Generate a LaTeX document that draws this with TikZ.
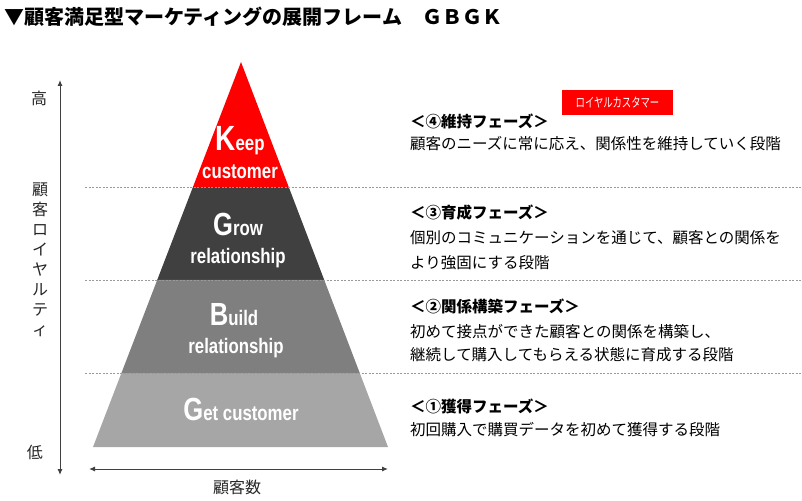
\documentclass[tikz,border=0pt]{standalone}
\usepackage{fontspec}
\setmainfont{Noto Sans CJK JP}
\newfontfamily\pyrfont{Liberation Sans}[FakeStretch=0.8]
\usetikzlibrary{arrows.meta,calc}
\definecolor{darklayer}{HTML}{404040}
\definecolor{midlayer}{HTML}{7F7F7F}
\definecolor{lightlayer}{HTML}{A6A6A6}
\definecolor{axisgray}{HTML}{404040}
\definecolor{guidegray}{HTML}{9A9A9A}
\tikzset{
  jtxt/.style={inner sep=0, anchor=base west, font=\fontsize{15.5}{20}\selectfont},
  jhead/.style={inner sep=0, anchor=base west, font=\bfseries\fontsize{15.5}{20}\selectfont},
  sidelbl/.style={inner sep=0, anchor=base, font=\fontsize{16}{20}\selectfont, text=black!85},
  guide/.style={draw=guidegray, dash pattern=on 2pt off 1.5pt, line width=0.8pt},
  axisline/.style={draw=axisgray, line width=1pt, {Latex[length=6pt,width=5pt]}-{Latex[length=6pt,width=5pt]}},
  pyrtxt/.style={inner sep=0, anchor=base, text=white, font=\pyrfont\bfseries},
  badge/.style={fill=red, text=white, inner sep=0, minimum width=111pt, minimum height=25pt, font=\fontsize{13}{13}\selectfont},
}
\newcommand{\bigletter}[1]{{\fontsize{32}{32}\selectfont #1}}
\newcommand{\smletters}[1]{{\fontsize{21}{21}\selectfont #1}}
\begin{document}
\begin{tikzpicture}[x=1pt,y=-1pt]
\useasboundingbox (0,0) rectangle (802,500);
% title
\node[inner sep=0, anchor=base west, font=\bfseries\fontsize{20}{20}\selectfont] (title) at (4,25) {▼顧客満足型マーケティングの展開フレーム　ＧＢＧＫ};
% pyramid
\coordinate (A) at (241,62);
\coordinate (BL) at (93,447);
\coordinate (BR) at (388,447);
\coordinate (L1) at ($(A)!0.3247!(BL)$);
\coordinate (R1) at ($(A)!0.3247!(BR)$);
\coordinate (L2) at ($(A)!0.5662!(BL)$);
\coordinate (R2) at ($(A)!0.5662!(BR)$);
\coordinate (L3) at ($(A)!0.8078!(BL)$);
\coordinate (R3) at ($(A)!0.8078!(BR)$);
\fill[red] (A) -- (L1) -- (R1) -- cycle;
\fill[darklayer] (L1) -- (L2) -- (R2) -- (R1) -- cycle;
\fill[midlayer] (L2) -- (L3) -- (R3) -- (R2) -- cycle;
\fill[lightlayer] (L3) -- (BL) -- (BR) -- (R3) -- cycle;
% guides
\coordinate (g1a) at (85,187); \coordinate (g1b) at (802,187);
\coordinate (g2a) at (85,280); \coordinate (g2b) at (802,280);
\coordinate (g3a) at (85,373); \coordinate (g3b) at (802,373);
\draw[guide] (g1a) -- (g1b);
\draw[guide] (g2a) -- (g2b);
\draw[guide] (g3a) -- (g3b);
% pyramid texts
\node[pyrtxt] (keep) at (240,150) {{\fontsize{35}{35}\selectfont K}\smletters{eep}};
\node[pyrtxt] (keepc) at (240,178) {\smletters{customer}};
\node[pyrtxt] (grow) at (238,235) {\bigletter{G}\smletters{row}};
\node[pyrtxt] (growr) at (238,263) {\smletters{relationship}};
\node[pyrtxt] (build) at (234,325) {\bigletter{B}\smletters{uild}};
\node[pyrtxt] (buildr) at (236,353) {\smletters{relationship}};
\node[pyrtxt] (get) at (241,420) {\bigletter{G}\smletters{et customer}};
% axes
\coordinate (ytop) at (60,80);
\coordinate (ybot) at (60,475);
\draw[axisline] (ytop) -- (ybot);
\coordinate (xl) at (89,469);
\coordinate (xr) at (388,469);
\draw[axisline] (xl) -- (xr);
\node[sidelbl] (high) at (39,104) {高};
\node[sidelbl] (low) at (35,458) {低};
\foreach \ch [count=\i from 0] in {顧,客,ロ,イ,ヤ,ル,テ,ィ}
  \node[sidelbl] (v\i) at (40,195+20*\i) {\ch};
\node[sidelbl] (count) at (237,493) {顧客数};
% right texts
\node[badge] (loyal) at (617.5,102.5) {\scalebox{0.72}[1]{ロイヤルカスタマー}};
\node[jhead] (h4) at (410,128) {＜④維持フェーズ＞};
\node[jtxt] (d4) at (410,149) {顧客のニーズに常に応え、関係性を維持していく段階};
\node[jhead] (h3) at (410,218) {＜③育成フェーズ＞};
\node[jtxt] (d3a) at (410,243) {個別のコミュニケーションを通じて、顧客との関係を};
\node[jtxt] (d3b) at (410,268) {より強固にする段階};
\node[jhead] (h2) at (410,312) {＜②関係構築フェーズ＞};
\node[jtxt] (d2a) at (410,337) {初めて接点ができた顧客との関係を構築し、};
\node[jtxt] (d2b) at (410,360) {継続して購入してもらえる状態に育成する段階};
\node[jhead] (h1) at (410,412) {＜①獲得フェーズ＞};
\node[jtxt] (d1) at (410,435) {初回購入で購買データを初めて獲得する段階};
\end{tikzpicture}
\end{document}
